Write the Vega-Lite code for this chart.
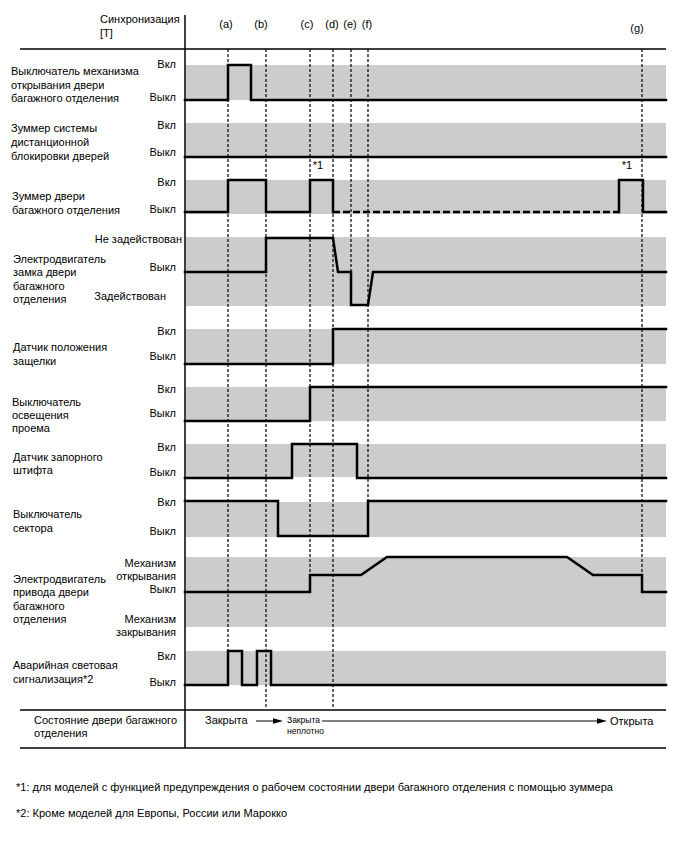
{
"$schema": "https://vega.github.io/schema/vega-lite/v6.json",
"width": 688, "height": 852, "padding": 0,
"autosize": {"type": "fit", "contains": "padding"},
"background": "white",
"config": {"view": {"stroke": null}, "text": {"font": "Liberation Sans", "color": "black"}},
"datasets": {
"bands": [
{"row": 1, "x": 186, "x2": 666, "y": 65, "y2": 100},
{"row": 2, "x": 186, "x2": 666, "y": 123, "y2": 157},
{"row": 3, "x": 186, "x2": 666, "y": 180, "y2": 214},
{"row": 4, "x": 186, "x2": 666, "y": 237, "y2": 306},
{"row": 5, "x": 186, "x2": 666, "y": 329, "y2": 364},
{"row": 6, "x": 186, "x2": 666, "y": 387, "y2": 421},
{"row": 7, "x": 186, "x2": 666, "y": 444, "y2": 477},
{"row": 8, "x": 186, "x2": 666, "y": 502, "y2": 537},
{"row": 9, "x": 186, "x2": 666, "y": 557, "y2": 627},
{"row": 10, "x": 186, "x2": 666, "y": 651, "y2": 685}
],
"frame": [
{"x": 20, "x2": 666, "y": 49, "y2": 49},
{"x": 20, "x2": 666, "y": 710, "y2": 710},
{"x": 20, "x2": 666, "y": 748, "y2": 748},
{"x": 185, "x2": 185, "y": 15, "y2": 748}
],
"markers": [
{"mark": "a", "x": 228, "y": 49, "y2": 651},
{"mark": "b", "x": 266, "y": 49, "y2": 708},
{"mark": "c", "x": 310, "y": 49, "y2": 592},
{"mark": "d", "x": 333, "y": 49, "y2": 708},
{"mark": "e", "x": 351, "y": 49, "y2": 306},
{"mark": "f", "x": 368, "y": 49, "y2": 536},
{"mark": "g", "x": 642, "y": 49, "y2": 592}
],
"signals": [
{"part": "s1", "style": "solid", "i": 0, "x": 185, "y": 100},
{"part": "s1", "style": "solid", "i": 1, "x": 228, "y": 100},
{"part": "s1", "style": "solid", "i": 2, "x": 228, "y": 65},
{"part": "s1", "style": "solid", "i": 3, "x": 251, "y": 65},
{"part": "s1", "style": "solid", "i": 4, "x": 251, "y": 100},
{"part": "s1", "style": "solid", "i": 5, "x": 666, "y": 100},
{"part": "s2", "style": "solid", "i": 0, "x": 185, "y": 157},
{"part": "s2", "style": "solid", "i": 1, "x": 666, "y": 157},
{"part": "s3a", "style": "solid", "i": 0, "x": 185, "y": 212},
{"part": "s3a", "style": "solid", "i": 1, "x": 228, "y": 212},
{"part": "s3a", "style": "solid", "i": 2, "x": 228, "y": 180},
{"part": "s3a", "style": "solid", "i": 3, "x": 266, "y": 180},
{"part": "s3a", "style": "solid", "i": 4, "x": 266, "y": 212},
{"part": "s3a", "style": "solid", "i": 5, "x": 310, "y": 212},
{"part": "s3a", "style": "solid", "i": 6, "x": 310, "y": 180},
{"part": "s3a", "style": "solid", "i": 7, "x": 333, "y": 180},
{"part": "s3a", "style": "solid", "i": 8, "x": 333, "y": 212},
{"part": "s3b", "style": "dashed", "i": 0, "x": 333, "y": 212},
{"part": "s3b", "style": "dashed", "i": 1, "x": 619, "y": 212},
{"part": "s3c", "style": "solid", "i": 0, "x": 619, "y": 212},
{"part": "s3c", "style": "solid", "i": 1, "x": 619, "y": 180},
{"part": "s3c", "style": "solid", "i": 2, "x": 643, "y": 180},
{"part": "s3c", "style": "solid", "i": 3, "x": 643, "y": 212},
{"part": "s3c", "style": "solid", "i": 4, "x": 666, "y": 212},
{"part": "s4", "style": "solid", "i": 0, "x": 185, "y": 272},
{"part": "s4", "style": "solid", "i": 1, "x": 266, "y": 272},
{"part": "s4", "style": "solid", "i": 2, "x": 266, "y": 238},
{"part": "s4", "style": "solid", "i": 3, "x": 333, "y": 238},
{"part": "s4", "style": "solid", "i": 4, "x": 338, "y": 272},
{"part": "s4", "style": "solid", "i": 5, "x": 351, "y": 272},
{"part": "s4", "style": "solid", "i": 6, "x": 351, "y": 305},
{"part": "s4", "style": "solid", "i": 7, "x": 368, "y": 305},
{"part": "s4", "style": "solid", "i": 8, "x": 373, "y": 272},
{"part": "s4", "style": "solid", "i": 9, "x": 666, "y": 272},
{"part": "s5", "style": "solid", "i": 0, "x": 185, "y": 364},
{"part": "s5", "style": "solid", "i": 1, "x": 333, "y": 364},
{"part": "s5", "style": "solid", "i": 2, "x": 333, "y": 329},
{"part": "s5", "style": "solid", "i": 3, "x": 666, "y": 329},
{"part": "s6", "style": "solid", "i": 0, "x": 185, "y": 421},
{"part": "s6", "style": "solid", "i": 1, "x": 310, "y": 421},
{"part": "s6", "style": "solid", "i": 2, "x": 310, "y": 387},
{"part": "s6", "style": "solid", "i": 3, "x": 666, "y": 387},
{"part": "s7", "style": "solid", "i": 0, "x": 185, "y": 478},
{"part": "s7", "style": "solid", "i": 1, "x": 292, "y": 478},
{"part": "s7", "style": "solid", "i": 2, "x": 292, "y": 444},
{"part": "s7", "style": "solid", "i": 3, "x": 357, "y": 444},
{"part": "s7", "style": "solid", "i": 4, "x": 357, "y": 478},
{"part": "s7", "style": "solid", "i": 5, "x": 666, "y": 478},
{"part": "s8", "style": "solid", "i": 0, "x": 185, "y": 501},
{"part": "s8", "style": "solid", "i": 1, "x": 278, "y": 501},
{"part": "s8", "style": "solid", "i": 2, "x": 278, "y": 536},
{"part": "s8", "style": "solid", "i": 3, "x": 368, "y": 536},
{"part": "s8", "style": "solid", "i": 4, "x": 368, "y": 501},
{"part": "s8", "style": "solid", "i": 5, "x": 666, "y": 501},
{"part": "s9", "style": "solid", "i": 0, "x": 185, "y": 592},
{"part": "s9", "style": "solid", "i": 1, "x": 310, "y": 592},
{"part": "s9", "style": "solid", "i": 2, "x": 310, "y": 575},
{"part": "s9", "style": "solid", "i": 3, "x": 361, "y": 575},
{"part": "s9", "style": "solid", "i": 4, "x": 387, "y": 557},
{"part": "s9", "style": "solid", "i": 5, "x": 567, "y": 557},
{"part": "s9", "style": "solid", "i": 6, "x": 593, "y": 575},
{"part": "s9", "style": "solid", "i": 7, "x": 642, "y": 575},
{"part": "s9", "style": "solid", "i": 8, "x": 642, "y": 592},
{"part": "s9", "style": "solid", "i": 9, "x": 666, "y": 592},
{"part": "s10", "style": "solid", "i": 0, "x": 185, "y": 685},
{"part": "s10", "style": "solid", "i": 1, "x": 228, "y": 685},
{"part": "s10", "style": "solid", "i": 2, "x": 228, "y": 651},
{"part": "s10", "style": "solid", "i": 3, "x": 242, "y": 651},
{"part": "s10", "style": "solid", "i": 4, "x": 242, "y": 685},
{"part": "s10", "style": "solid", "i": 5, "x": 257, "y": 685},
{"part": "s10", "style": "solid", "i": 6, "x": 257, "y": 651},
{"part": "s10", "style": "solid", "i": 7, "x": 271, "y": 651},
{"part": "s10", "style": "solid", "i": 8, "x": 271, "y": 685},
{"part": "s10", "style": "solid", "i": 9, "x": 666, "y": 685}
],
"arrows": [
{"part": "a1", "i": 0, "x": 256, "y": 721},
{"part": "a1", "i": 1, "x": 276, "y": 721},
{"part": "a2", "i": 0, "x": 322, "y": 721},
{"part": "a2", "i": 1, "x": 600, "y": 721}
],
"heads": [
{"part": "a1", "x": 278, "y": 721},
{"part": "a2", "x": 602, "y": 721}
],
"labels": [
{"role": "name", "text": "Синхронизация", "x": 100, "y": 20},
{"role": "name", "text": "[T]", "x": 100, "y": 34},
{"role": "name", "text": "Выключатель механизма", "x": 11, "y": 72},
{"role": "name", "text": "открывания двери", "x": 11, "y": 86},
{"role": "name", "text": "багажного отделения", "x": 11, "y": 99},
{"role": "name", "text": "Зуммер системы", "x": 11, "y": 129},
{"role": "name", "text": "дистанционной", "x": 11, "y": 143},
{"role": "name", "text": "блокировки дверей", "x": 11, "y": 157},
{"role": "name", "text": "Зуммер двери", "x": 12, "y": 197},
{"role": "name", "text": "багажного отделения", "x": 12, "y": 211},
{"role": "name", "text": "Электродвигатель", "x": 13, "y": 260},
{"role": "name", "text": "замка двери", "x": 13, "y": 273},
{"role": "name", "text": "багажного", "x": 13, "y": 287},
{"role": "name", "text": "отделения", "x": 13, "y": 300},
{"role": "name", "text": "Датчик положения", "x": 13, "y": 348},
{"role": "name", "text": "защелки", "x": 13, "y": 362},
{"role": "name", "text": "Выключатель", "x": 12, "y": 403},
{"role": "name", "text": "освещения", "x": 12, "y": 416},
{"role": "name", "text": "проема", "x": 12, "y": 429},
{"role": "name", "text": "Датчик запорного", "x": 13, "y": 458},
{"role": "name", "text": "штифта", "x": 13, "y": 471},
{"role": "name", "text": "Выключатель", "x": 13, "y": 515},
{"role": "name", "text": "сектора", "x": 13, "y": 529},
{"role": "name", "text": "Электродвигатель", "x": 13, "y": 580},
{"role": "name", "text": "привода двери", "x": 13, "y": 593},
{"role": "name", "text": "багажного", "x": 13, "y": 607},
{"role": "name", "text": "отделения", "x": 13, "y": 620},
{"role": "name", "text": "Аварийная световая", "x": 13, "y": 666},
{"role": "name", "text": "сигнализация*2", "x": 13, "y": 680},
{"role": "name", "text": "Состояние двери багажного", "x": 34, "y": 721},
{"role": "name", "text": "отделения", "x": 34, "y": 734},
{"role": "name", "text": "Закрыта", "x": 205, "y": 721},
{"role": "name", "text": "Открыта", "x": 610, "y": 722},
{"role": "foot", "text": "*1: для моделей с функцией предупреждения о рабочем состоянии двери багажного отделения с помощью зуммера", "x": 16, "y": 788},
{"role": "foot", "text": "*2: Кроме моделей для Европы, России или Марокко", "x": 16, "y": 814},
{"role": "small", "text": "Закрыта", "x": 287, "y": 720},
{"role": "small", "text": "неплотно", "x": 287, "y": 731},
{"role": "state", "text": "Вкл", "x": 176, "y": 65},
{"role": "state", "text": "Выкл", "x": 176, "y": 98},
{"role": "state", "text": "Вкл", "x": 176, "y": 126},
{"role": "state", "text": "Выкл", "x": 176, "y": 153},
{"role": "state", "text": "Вкл", "x": 176, "y": 183},
{"role": "state", "text": "Выкл", "x": 176, "y": 210},
{"role": "state", "text": "Не задействован", "x": 182, "y": 240},
{"role": "state", "text": "Выкл", "x": 176, "y": 268},
{"role": "state", "text": "Задействован", "x": 166, "y": 297},
{"role": "state", "text": "Вкл", "x": 176, "y": 332},
{"role": "state", "text": "Выкл", "x": 176, "y": 357},
{"role": "state", "text": "Вкл", "x": 176, "y": 390},
{"role": "state", "text": "Выкл", "x": 176, "y": 414},
{"role": "state", "text": "Вкл", "x": 176, "y": 448},
{"role": "state", "text": "Выкл", "x": 176, "y": 473},
{"role": "state", "text": "Вкл", "x": 176, "y": 503},
{"role": "state", "text": "Выкл", "x": 176, "y": 532},
{"role": "state", "text": "Механизм", "x": 176, "y": 564},
{"role": "state", "text": "открывания", "x": 176, "y": 577},
{"role": "state", "text": "Выкл", "x": 176, "y": 590},
{"role": "state", "text": "Механизм", "x": 176, "y": 620},
{"role": "state", "text": "закрывания", "x": 176, "y": 633},
{"role": "state", "text": "Вкл", "x": 176, "y": 657},
{"role": "state", "text": "Выкл", "x": 176, "y": 683},
{"role": "marker", "text": "(a)", "x": 226, "y": 25},
{"role": "marker", "text": "(b)", "x": 261, "y": 25},
{"role": "marker", "text": "(c)", "x": 307, "y": 25},
{"role": "marker", "text": "(d)", "x": 332, "y": 25},
{"role": "marker", "text": "(e)", "x": 350, "y": 25},
{"role": "marker", "text": "(f)", "x": 367, "y": 25},
{"role": "marker", "text": "(g)", "x": 637, "y": 29},
{"role": "marker", "text": "*1", "x": 318, "y": 166},
{"role": "marker", "text": "*1", "x": 627, "y": 166}
]
},
"encoding": {
"x": {"field": "x", "type": "quantitative", "scale": {"domain": [0, 688], "nice": false, "zero": false}, "axis": null},
"y": {"field": "y", "type": "quantitative", "scale": {"domain": [0, 852], "reverse": true, "nice": false, "zero": false}, "axis": null}
},
"layer": [
{"data": {"name": "bands"}, "mark": {"type": "rect", "color": "#cccccc"},
 "encoding": {"x2": {"field": "x2"}, "y2": {"field": "y2"}}},
{"data": {"name": "frame"}, "mark": {"type": "rule", "color": "black", "strokeWidth": 1.5},
 "encoding": {"x2": {"field": "x2"}, "y2": {"field": "y2"}}},
{"data": {"name": "markers"}, "mark": {"type": "rule", "color": "black", "strokeWidth": 1.2, "strokeDash": [3, 2]},
 "encoding": {"y2": {"field": "y2"}}},
{"data": {"name": "signals"}, "transform": [{"filter": "datum.style === 'solid'"}],
 "mark": {"type": "line", "color": "black", "strokeWidth": 2.5, "strokeJoin": "miter", "strokeCap": "square"},
 "encoding": {"detail": {"field": "part"}, "order": {"field": "i", "type": "quantitative"}}},
{"data": {"name": "signals"}, "transform": [{"filter": "datum.style === 'dashed'"}],
 "mark": {"type": "line", "color": "black", "strokeWidth": 2.5, "strokeDash": [7, 3]},
 "encoding": {"detail": {"field": "part"}, "order": {"field": "i", "type": "quantitative"}}},
{"data": {"name": "arrows"}, "mark": {"type": "line", "color": "black", "strokeWidth": 1},
 "encoding": {"detail": {"field": "part"}, "order": {"field": "i", "type": "quantitative"}}},
{"data": {"name": "heads"}, "mark": {"type": "point", "shape": "M-1,-0.55L1,0L-1,0.55Z", "size": 100, "filled": true, "color": "black", "opacity": 1}},
{"data": {"name": "labels"}, "transform": [{"filter": "datum.role === 'name'"}],
 "mark": {"type": "text", "align": "left", "baseline": "middle", "fontSize": 11},
 "encoding": {"text": {"field": "text"}}},
{"data": {"name": "labels"}, "transform": [{"filter": "datum.role === 'foot'"}],
 "mark": {"type": "text", "align": "left", "baseline": "middle", "fontSize": 11},
 "encoding": {"text": {"field": "text"}}},
{"data": {"name": "labels"}, "transform": [{"filter": "datum.role === 'small'"}],
 "mark": {"type": "text", "align": "left", "baseline": "middle", "fontSize": 8.5},
 "encoding": {"text": {"field": "text"}}},
{"data": {"name": "labels"}, "transform": [{"filter": "datum.role === 'state'"}],
 "mark": {"type": "text", "align": "right", "baseline": "middle", "fontSize": 11},
 "encoding": {"text": {"field": "text"}}},
{"data": {"name": "labels"}, "transform": [{"filter": "datum.role === 'marker'"}],
 "mark": {"type": "text", "align": "center", "baseline": "middle", "fontSize": 11},
 "encoding": {"text": {"field": "text"}}}
]
}
